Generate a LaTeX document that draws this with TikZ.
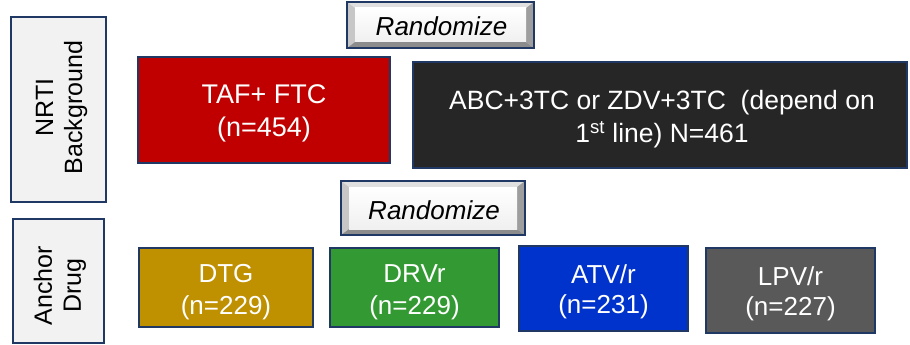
\documentclass[tikz,border=0pt]{standalone}
\usepackage{fontspec}
\setmainfont{Liberation Sans}
\definecolor{navy}{HTML}{1F3864}
\definecolor{lblgray}{HTML}{F2F2F2}
\definecolor{tafred}{HTML}{C00000}
\definecolor{abcblack}{HTML}{262626}
\definecolor{dtggold}{HTML}{BF9000}
\definecolor{drvgreen}{HTML}{339933}
\definecolor{atvblue}{HTML}{0033CC}
\definecolor{lpvgray}{HTML}{595959}
\tikzset{
  armbox/.style={draw=navy, line width=1.6pt, inner sep=0pt},
  armtext/.style={text=white, align=center, inner sep=0pt},
  labelbox/.style={draw=navy, line width=2pt, fill=lblgray, inner sep=0pt},
  labeltext/.style={rotate=90, align=center, inner sep=0pt, font=\fontsize{25}{29}\selectfont},
  randbox/.style={draw=navy, line width=2pt, fill=white, inner sep=0pt,
    path picture={
      \coordinate (pNW) at (path picture bounding box.north west);
      \coordinate (pNE) at (path picture bounding box.north east);
      \coordinate (pSW) at (path picture bounding box.south west);
      \coordinate (pSE) at (path picture bounding box.south east);
      \fill[black!12] (pNW) -- (pNE) -- ([shift={(-8pt,-6pt)}]pNE) -- ([shift={(8pt,-6pt)}]pNW) -- cycle;
      \fill[black!22] (pNW) -- (pSW) -- ([shift={(8pt,6pt)}]pSW) -- ([shift={(8pt,-6pt)}]pNW) -- cycle;
      \fill[black!38] (pNE) -- (pSE) -- ([shift={(-8pt,6pt)}]pSE) -- ([shift={(-8pt,-6pt)}]pNE) -- cycle;
      \fill[black!45] (pSW) -- (pSE) -- ([shift={(-8pt,6pt)}]pSE) -- ([shift={(8pt,6pt)}]pSW) -- cycle;
      \shade[top color=white, bottom color=black!6] ([shift={(8pt,-6pt)}]pNW) rectangle ([shift={(-8pt,6pt)}]pSE);
    }},
  randtext/.style={inner sep=0pt, font=\itshape\fontsize{26}{30}\selectfont},
}
\begin{document}
\begin{tikzpicture}[x=1pt,y=-1pt]
\useasboundingbox (0,0) rectangle (910,345);
% side labels
\node[labelbox, minimum width=95, minimum height=185] (nrti) at (58.5,109.5) {};
\node[labeltext] (nrtitext) at (61.5,107.5) {NRTI\\Background};
\node[labelbox, minimum width=91, minimum height=124] (anchor) at (58.5,281) {};
\node[labeltext] (anchortext) at (60,285.5) {Anchor\\Drug};
% randomize boxes
\node[randbox, minimum width=187, minimum height=46] (rand1) at (440.5,25) {};
\node[randtext] (rand1text) at (441.5,26.5) {Randomize};
\node[randbox, minimum width=184, minimum height=54] (rand2) at (433,208) {};
\node[randtext] (rand2text) at (434,210.5) {Randomize};
% NRTI arms
\node[armbox, fill=tafred, minimum width=252, minimum height=106] (taf) at (264,110) {};
\node[armtext, font=\fontsize{27}{33}\selectfont] (taftext) at (264,113.5) {TAF+ FTC\\(n=454)};
\node[armbox, fill=abcblack, minimum width=494, minimum height=106] (abc) at (660,115) {};
\node[armtext, font=\fontsize{26.5}{33}\selectfont] (abctext) at (662,119.5) {ABC+3TC or ZDV+3TC\ \ (depend on\\1\textsuperscript{st} line) N=461};
% anchor drug arms
\node[armbox, fill=dtggold, minimum width=174, minimum height=79] (dtg) at (226,287.5) {};
\node[armtext, font=\fontsize{26}{32}\selectfont] (dtgtext) at (226,292.5) {DTG\\(n=229)};
\node[armbox, fill=drvgreen, minimum width=169, minimum height=79] (drv) at (414.5,287.5) {};
\node[armtext, font=\fontsize{26}{32}\selectfont] (drvtext) at (414.5,292.5) {DRVr\\(n=229)};
\node[armbox, fill=atvblue, minimum width=169, minimum height=85] (atv) at (603.5,288.5) {};
\node[armtext, font=\fontsize{26}{30}\selectfont] (atvtext) at (603.5,292) {ATV/r\\(n=231)};
\node[armbox, fill=lpvgray, minimum width=169, minimum height=85] (lpv) at (790.5,290.5) {};
\node[armtext, font=\fontsize{26}{30}\selectfont] (lpvtext) at (790.5,294) {LPV/r\\(n=227)};
\end{tikzpicture}
\end{document}
